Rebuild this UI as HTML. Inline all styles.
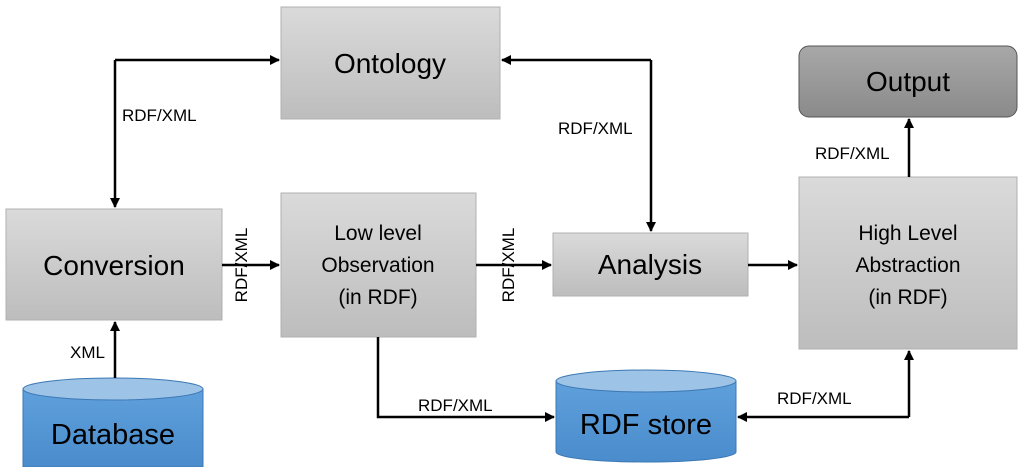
<!DOCTYPE html>
<html><head><meta charset="utf-8"><style>
body{margin:0;background:#fff}
svg text{font-family:"Liberation Sans",sans-serif;fill:#000}
</style></head><body>
<svg width="1024" height="467" viewBox="0 0 1024 467" xmlns="http://www.w3.org/2000/svg">
<defs>
<linearGradient id="g" x1="0" y1="0" x2="0" y2="1"><stop offset="0" stop-color="#dadada"/><stop offset="1" stop-color="#bdbdbd"/></linearGradient>
<linearGradient id="o" x1="0" y1="0" x2="0" y2="1"><stop offset="0" stop-color="#a8a8a8"/><stop offset="1" stop-color="#8a8a8a"/></linearGradient>
<linearGradient id="b" x1="0" y1="0" x2="0" y2="1"><stop offset="0" stop-color="#5fa0dc"/><stop offset="1" stop-color="#4a8ccc"/></linearGradient>
<marker id="a" markerWidth="10" markerHeight="10" refX="9" refY="5" orient="auto" markerUnits="userSpaceOnUse"><path d="M0,0 L10,5 L0,10 z" fill="#000"/></marker>
</defs>
<g stroke="#b0b0b0" stroke-width="1">
<rect x="281" y="7" width="219" height="112" fill="url(#g)"/>
<rect x="6" y="209" width="216" height="111" fill="url(#g)"/>
<rect x="281" y="193" width="195" height="144" fill="url(#g)"/>
<rect x="553" y="233" width="195" height="63" fill="url(#g)"/>
<rect x="799" y="177" width="218" height="172" fill="url(#g)"/>
</g>
<rect x="799" y="46" width="218" height="71" rx="10" fill="url(#o)" stroke="#555" stroke-width="1"/>
<!-- cylinders -->
<g stroke="#3c78b4" stroke-width="1">
<path d="M23,389 L23,467 L203,467 L203,389" fill="url(#b)"/>
<ellipse cx="113" cy="389" rx="90" ry="11" fill="#9dc3e6"/>
<path d="M556,381 L556,452 A90,10 0 0 0 736,452 L736,381" fill="url(#b)"/>
<ellipse cx="646" cy="381" rx="90" ry="11" fill="#9dc3e6"/>
</g>
<g stroke="#000" stroke-width="2.5" fill="none">
<path d="M115,60 L279,60" marker-end="url(#a)"/>
<path d="M115,60 L115,207" marker-end="url(#a)"/>
<path d="M651,60 L502,60" marker-end="url(#a)"/>
<path d="M651,60 L651,231" marker-end="url(#a)"/>
<path d="M222,265 L279,265" marker-end="url(#a)"/>
<path d="M476,265 L551,265" marker-end="url(#a)"/>
<path d="M748,265 L797,265" marker-end="url(#a)"/>
<path d="M909,177 L909,119" marker-end="url(#a)"/>
<path d="M115,378 L115,322" marker-end="url(#a)"/>
<path d="M378,337 L378,417 L554,417" marker-end="url(#a)"/>
<path d="M909,417 L738,417" marker-end="url(#a)"/>
<path d="M909,417 L909,351" marker-end="url(#a)"/>
</g>
<g font-size="28" text-anchor="middle">
<text x="390" y="73">Ontology</text>
<text x="114" y="275">Conversion</text>
<text x="650" y="274">Analysis</text>
<text x="908" y="91">Output</text>
<text x="113" y="444" font-size="29">Database</text>
<text x="646" y="434" font-size="29">RDF store</text>
</g>
<g font-size="21" text-anchor="middle">
<text x="378" y="240">Low level</text>
<text x="378" y="272">Observation</text>
<text x="378" y="304">(in RDF)</text>
<text x="908" y="240">High Level</text>
<text x="908" y="272">Abstraction</text>
<text x="908" y="304">(in RDF)</text>
</g>
<g font-size="17">
<text x="122" y="121">RDF/XML</text>
<text x="558" y="134">RDF/XML</text>
<text x="815" y="159">RDF/XML</text>
<text x="418" y="411">RDF/XML</text>
<text x="777" y="404">RDF/XML</text>
<text x="70" y="358">XML</text>
<text transform="translate(247,265) rotate(-90)" text-anchor="middle">RDF/XML</text>
<text transform="translate(514,265) rotate(-90)" text-anchor="middle">RDF/XML</text>
</g>
</svg>
</body></html>
